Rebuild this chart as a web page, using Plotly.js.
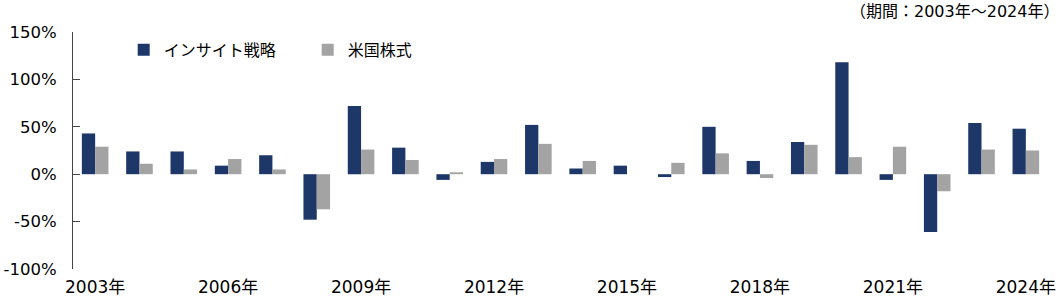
<!DOCTYPE html>
<html>
<head>
<meta charset="utf-8">
<script src="https://cdn.plot.ly/plotly-3.0.1.min.js"></script>
<style>html,body{margin:0;padding:0;background:#fff;}#chart{width:1058px;height:296px;}</style>
</head>
<body>
<div id="chart"></div>
<script>
const years = ["2003年","2004年","2005年","2006年","2007年","2008年","2009年","2010年","2011年","2012年","2013年","2014年","2015年","2016年","2017年","2018年","2019年","2020年","2021年","2022年","2023年","2024年"];
const insight = [43,24,24,9,20,-48,72,28,-6,13,52,6,9,-3,50,14,34,118,-6,-61,54,48];
const usStocks = [29,11,5,16,5,-37,26,15,2,16,32,14,0,12,22,-4,31,18,29,-18,26,25];
const tickLabels = ["2003年","2006年","2009年","2012年","2015年","2018年","2021年","2024年"];
const yTicks = [-100,-50,0,50,100,150];
const seriesNames = ["インサイト戦略","米国株式"];
const periodNote = "（期間：2003年～2024年）";

const FONT = "'DejaVu Sans', 'Noto Sans CJK JP', sans-serif";
const CJK = "'Noto Sans CJK JP', sans-serif";
const boundaries = [];
for (let i = 0; i <= years.length; i++) boundaries.push(i - 0.5);

const data = [
  {type:'bar', x: years, y: insight, name: seriesNames[0], marker:{color:'#1d3769'}, hoverinfo:'skip'},
  {type:'bar', x: years, y: usStocks, name: seriesNames[1], marker:{color:'#a3a3a3'}, hoverinfo:'skip'}
];

const layout = {
  width: 1058, height: 296,
  margin: {l: 73, r: 10, t: 32, b: 27, pad: 0},
  paper_bgcolor: '#fff', plot_bgcolor: '#fff',
  font: {family: FONT, size: 16, color: '#000'},
  barmode: 'group', bargap: 0.4, bargroupgap: 0,
  showlegend: true,
  legend: {orientation: 'h', x: 0.052, xanchor: 'left', y: 0.925, yanchor: 'middle',
           font: {family: CJK, size: 16, color: '#000'}, entrywidth: 139, entrywidthmode: 'pixels',
           bgcolor: 'rgba(0,0,0,0)', itemclick: false},
  xaxis: {type: 'category', categoryarray: years, categoryorder: 'array', range: [-0.5, years.length - 0.5],
          tickmode: 'array', tickvals: tickLabels, ticktext: tickLabels, ticks: '', showline: false,
          showgrid: false, zeroline: false, tickfont: {family: FONT, size: 17, color: '#000'}, ticklabelstandoff: 6},
  xaxis2: {overlaying: 'x', anchor: 'free', position: 0.4, type: 'linear', range: [-0.5, years.length - 0.5],
           tickmode: 'array', tickvals: boundaries, ticks: 'inside', ticklen: 6, tickcolor: '#000', tickwidth: 1,
           showticklabels: false, showline: true, linecolor: '#000', linewidth: 1, showgrid: false, zeroline: false},
  yaxis: {range: [-100, 150], tickmode: 'array', tickvals: yTicks, ticktext: yTicks.map(v => v + '%'),
          ticks: 'inside', ticklen: 7, tickcolor: '#444', showline: true, linecolor: '#444', linewidth: 1,
          showgrid: false, zeroline: false, tickfont: {family: FONT, size: 16.5, color: '#000'}, ticklabelstandoff: 12},
  annotations: [{text: periodNote, xref: 'paper', yref: 'paper', x: 1, y: 1, xanchor: 'right', yanchor: 'bottom',
                 yshift: 9, xshift: 13, showarrow: false, font: {family: FONT, size: 16, color: '#000'}}]
};

Plotly.newPlot('chart', data, layout, {staticPlot: true, displayModeBar: false});
</script>
</body>
</html>
